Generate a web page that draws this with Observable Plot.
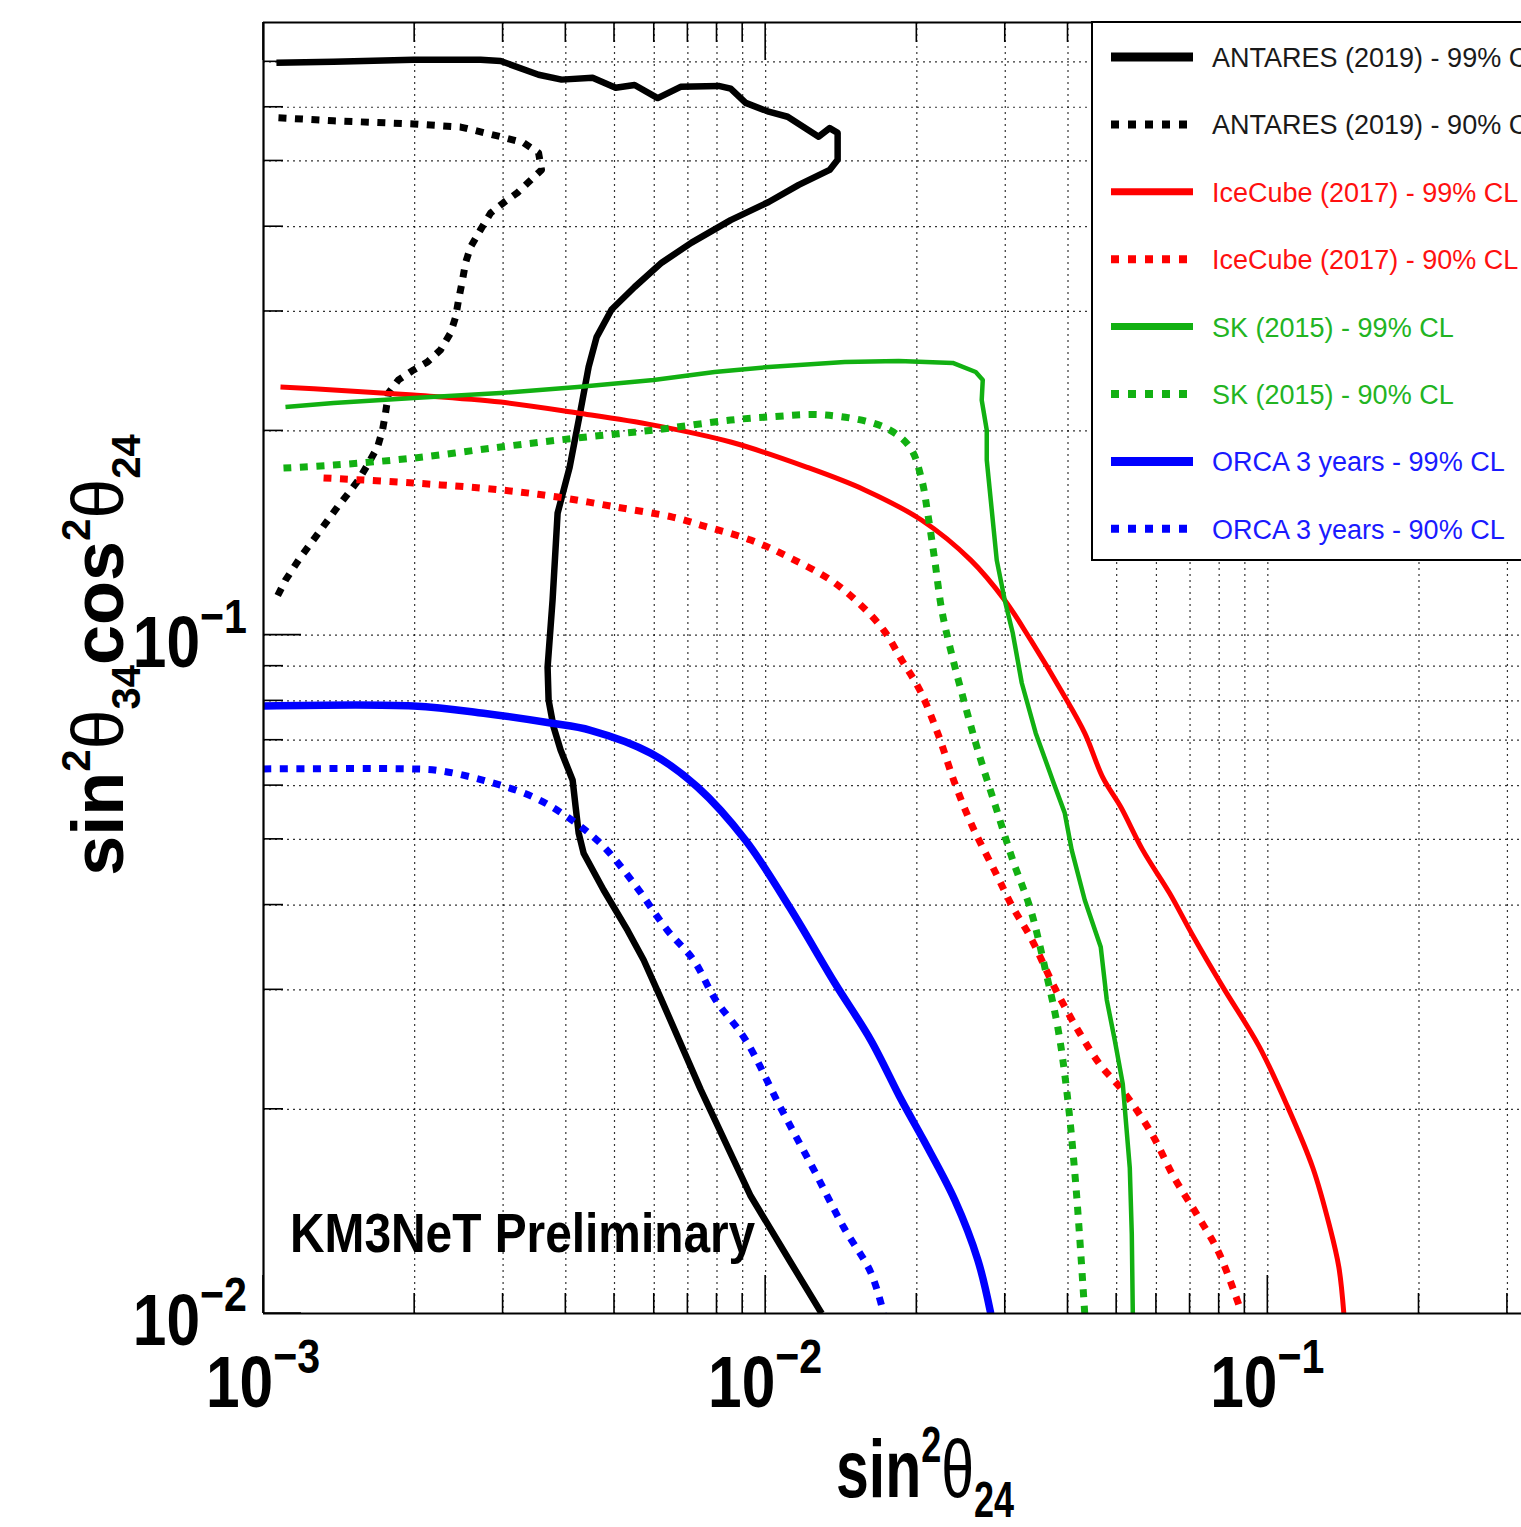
<!DOCTYPE html>
<html>
<head>
<meta charset="utf-8">
<script src="https://cdn.jsdelivr.net/npm/d3@7"></script>
<script src="https://cdn.jsdelivr.net/npm/@observablehq/plot@0.6"></script>
<style>
  html, body { margin: 0; padding: 0; background: #fff; overflow: hidden; }
  svg text { font-family: "Liberation Sans", Arial, Helvetica, sans-serif; }
</style>
</head>
<body>
<div id="chart"></div>
<script>
// ---------------- data (sin^2θ24 , sin^2θ34 cos^2θ24) ----------------
const antares99X = [1.061e-3, 1.379e-3, 1.990e-3, 2.706e-3, 2.966e-3, 3.530e-3, 3.923e-3, 4.522e-3, 5.026e-3, 5.483e-3, 6.095e-3, 6.770e-3, 8.060e-3, 8.517e-3, 9.125e-3, 1.014e-2, 1.106e-2, 1.275e-2, 1.341e-2, 1.391e-2, 1.391e-2, 1.341e-2, 1.164e-2, 1.014e-2, 8.517e-3, 7.120e-3, 6.207e-3, 5.483e-3, 4.934e-3, 4.606e-3, 4.441e-3, 4.281e-3, 4.071e-3, 3.852e-3, 3.764e-3, 3.679e-3, 3.696e-3, 3.782e-3, 3.905e-3, 4.127e-3, 4.184e-3, 4.242e-3, 4.340e-3, 4.756e-3, 5.310e-3, 5.715e-3, 6.178e-3, 7.420e-3, 9.336e-3, 1.121e-2, 1.293e-2];
const antares99Y = [0.698, 0.700, 0.705, 0.705, 0.702, 0.670, 0.659, 0.663, 0.641, 0.647, 0.619, 0.643, 0.645, 0.639, 0.609, 0.591, 0.581, 0.543, 0.559, 0.550, 0.502, 0.485, 0.461, 0.435, 0.409, 0.379, 0.354, 0.326, 0.302, 0.275, 0.2485, 0.2147, 0.1769, 0.1513, 0.1126, 0.0897, 0.0802, 0.0732, 0.0677, 0.0611, 0.0558, 0.0511, 0.0477, 0.0421, 0.0367, 0.0332, 0.0292, 0.0214, 0.0149, 0.0119, 0.0100];

const antares90X = [1.071e-3, 1.379e-3, 1.990e-3, 2.469e-3, 2.966e-3, 3.296e-3, 3.530e-3, 3.578e-3, 3.357e-3, 3.206e-3, 3.007e-3, 2.833e-3, 2.706e-3, 2.585e-3, 2.526e-3, 2.491e-3, 2.446e-3, 2.413e-3, 2.358e-3, 2.252e-3, 2.122e-3, 1.990e-3, 1.857e-3, 1.774e-3, 1.750e-3, 1.726e-3, 1.687e-3, 1.619e-3, 1.546e-3, 1.477e-3, 1.404e-3, 1.299e-3, 1.185e-3, 1.106e-3, 1.061e-3];
const antares90Y = [0.579, 0.573, 0.567, 0.561, 0.543, 0.532, 0.514, 0.485, 0.464, 0.449, 0.434, 0.419, 0.396, 0.3736, 0.354, 0.334, 0.312, 0.2944, 0.2789, 0.2633, 0.2528, 0.2460, 0.2378, 0.2275, 0.2126, 0.2006, 0.1894, 0.1793, 0.1693, 0.1620, 0.1545, 0.1428, 0.1303, 0.1205, 0.1134];

const icecube99X = [1.081e-3, 1.379e-3, 1.990e-3, 2.966e-3, 4.223e-3, 5.983e-3, 8.517e-3, 1.206e-2, 1.575e-2, 2.046e-2, 2.561e-2, 2.993e-2, 3.373e-2, 3.904e-2, 4.319e-2, 4.691e-2, 5.095e-2, 5.636e-2, 6.379e-2, 7.056e-2, 8.134e-2, 9.596e-2, 1.091e-1, 1.229e-1, 1.329e-1, 1.385e-1, 1.417e-1];
const icecube99Y = [0.2322, 0.2298, 0.2259, 0.2206, 0.2126, 0.2040, 0.1926, 0.1769, 0.1637, 0.1477, 0.1290, 0.1126, 0.0983, 0.0821, 0.0717, 0.0617, 0.0558, 0.0482, 0.0416, 0.0363, 0.0303, 0.0248, 0.0203, 0.0164, 0.0134, 0.0117, 0.0100];

const icecube90X = [1.317e-3, 1.990e-3, 2.966e-3, 3.852e-3, 5.026e-3, 6.525e-3, 7.420e-3, 9.336e-3, 1.121e-2, 1.348e-2, 1.532e-2, 1.718e-2, 1.866e-2, 2.027e-2, 2.201e-2, 2.380e-2, 2.585e-2, 2.872e-2, 3.105e-2, 3.373e-2, 3.782e-2, 4.221e-2, 4.648e-2, 5.142e-2, 5.874e-2, 6.497e-2, 7.221e-2, 7.985e-2, 8.835e-2];
const icecube90Y = [0.1705, 0.1676, 0.1637, 0.1598, 0.1545, 0.1493, 0.1453, 0.1381, 0.1299, 0.1205, 0.1115, 0.1017, 0.0919, 0.0830, 0.0717, 0.0605, 0.0521, 0.0446, 0.0397, 0.0358, 0.0300, 0.0259, 0.0232, 0.0213, 0.0184, 0.0159, 0.0140, 0.0123, 0.0101];

const sk99X = [1.106e-3, 1.379e-3, 1.990e-3, 2.966e-3, 4.223e-3, 5.983e-3, 7.914e-3, 1.014e-2, 1.437e-2, 1.841e-2, 2.358e-2, 2.620e-2, 2.706e-2, 2.693e-2, 2.756e-2, 2.756e-2, 2.807e-2, 2.885e-2, 2.993e-2, 3.105e-2, 3.236e-2, 3.450e-2, 3.747e-2, 3.940e-2, 4.069e-2, 4.319e-2, 4.648e-2, 4.778e-2, 4.956e-2, 5.142e-2, 5.310e-2, 5.359e-2, 5.384e-2];
const sk99Y = [0.2169, 0.2199, 0.2237, 0.2275, 0.2322, 0.2378, 0.2443, 0.2485, 0.2528, 0.2536, 0.2519, 0.2443, 0.2378, 0.2221, 0.2006, 0.1812, 0.1582, 0.1290, 0.1126, 0.1007, 0.0850, 0.0717, 0.0605, 0.0547, 0.0482, 0.0407, 0.0347, 0.0290, 0.0253, 0.0218, 0.0164, 0.0131, 0.0100];

const sk90X = [1.096e-3, 1.379e-3, 1.990e-3, 2.966e-3, 4.223e-3, 5.983e-3, 8.517e-3, 1.014e-2, 1.317e-2, 1.718e-2, 1.936e-2, 2.046e-2, 2.102e-2, 2.171e-2, 2.242e-2, 2.336e-2, 2.480e-2, 2.645e-2, 2.872e-2, 3.105e-2, 3.373e-2, 3.596e-2, 3.817e-2, 3.977e-2, 4.145e-2, 4.319e-2];
const sk90Y = [0.1763, 0.1781, 0.1824, 0.1894, 0.1953, 0.2006, 0.2075, 0.2097, 0.2111, 0.2027, 0.1894, 0.1693, 0.1513, 0.1290, 0.1089, 0.0950, 0.0802, 0.0677, 0.0558, 0.0466, 0.0393, 0.0324, 0.0264, 0.0213, 0.0155, 0.0100];

const orca99X = [1.000e-3, 1.990e-3, 2.743e-3, 3.730e-3, 4.481e-3, 5.901e-3, 7.318e-3, 9.125e-3, 1.116e-2, 1.373e-2, 1.619e-2, 1.866e-2, 2.064e-2, 2.380e-2, 2.645e-2, 2.807e-2];
const orca99Y = [0.0786, 0.0786, 0.0767, 0.0742, 0.0724, 0.0670, 0.0597, 0.0498, 0.0397, 0.0307, 0.0253, 0.0206, 0.0180, 0.0147, 0.0120, 0.0100];

const orca90X = [1.000e-3, 1.990e-3, 2.221e-3, 2.743e-3, 3.450e-3, 4.034e-3, 4.691e-3, 5.459e-3, 6.377e-3, 7.186e-3, 7.949e-3, 9.125e-3, 1.071e-2, 1.241e-2, 1.430e-2, 1.619e-2, 1.718e-2];
const orca90Y = [0.0635, 0.0635, 0.0632, 0.0611, 0.0577, 0.0539, 0.0493, 0.0431, 0.0367, 0.0332, 0.0290, 0.0253, 0.0201, 0.0164, 0.0134, 0.0115, 0.0100];

const seriesNames = [
  "ANTARES (2019) - 99% CL", "ANTARES (2019) - 90% CL",
  "IceCube (2017) - 99% CL", "IceCube (2017) - 90% CL",
  "SK (2015) - 99% CL", "SK (2015) - 90% CL",
  "ORCA 3 years - 99% CL", "ORCA 3 years - 90% CL"
];
const seriesX = [antares99X, antares90X, icecube99X, icecube90X, sk99X, sk90X, orca99X, orca90X];
const seriesY = [antares99Y, antares90Y, icecube99Y, icecube90Y, sk99Y, sk90Y, orca99Y, orca90Y];

// axis ticks
const xMajorTicks = [1e-3, 1e-2, 1e-1];
const xMajorLabels = ["−3", "−2", "−1"];
const xMinorTicks = [0.002, 0.003, 0.004, 0.005, 0.006, 0.007, 0.008, 0.009, 0.02, 0.03, 0.04, 0.05, 0.06, 0.07, 0.08, 0.09, 0.2, 0.3];
const yMajorTicks = [0.01, 0.1];
const yMajorLabels = ["−2", "−1"];
const yMinorTicks = [0.02, 0.03, 0.04, 0.05, 0.06, 0.07, 0.08, 0.09, 0.2, 0.3, 0.4, 0.5, 0.6, 0.7];
const xDomain = [1e-3, 0.32];
const yDomain = [0.01, 0.8];

// ---------------- styles ----------------
const styles = [
  {color: "#000000", width: 6.5, dash: null, legendWidth: 9, text: "#1a1a1a", curve: "linear"},
  {color: "#000000", width: 7, dash: "8,8.5", legendWidth: 8, text: "#1a1a1a", curve: "linear"},
  {color: "#ff0000", width: 5, dash: null, legendWidth: 7, text: "#ff1010", curve: "catmull-rom"},
  {color: "#ff0000", width: 7, dash: "8,8.5", legendWidth: 8, text: "#ff1010", curve: "catmull-rom"},
  {color: "#12b012", width: 4.5, dash: null, legendWidth: 7, text: "#22b422", curve: "linear"},
  {color: "#12b012", width: 7, dash: "8,8.5", legendWidth: 8, text: "#22b422", curve: "catmull-rom"},
  {color: "#0000ff", width: 7.5, dash: null, legendWidth: 9, text: "#1a1aff", curve: "catmull-rom"},
  {color: "#0000ff", width: 7, dash: "8,8.5", legendWidth: 8, text: "#1a1aff", curve: "catmull-rom"}
];

const lineMarks = seriesNames.map((name, k) => {
  const rows = seriesX[k].map((x, i) => ({x, y: seriesY[k][i]}));
  const s = styles[k];
  return Plot.line(rows, {
    x: "x", y: "y", stroke: s.color, strokeWidth: s.width,
    strokeDasharray: s.dash, strokeLinecap: "butt", strokeLinejoin: "round",
    curve: s.curve, clip: true
  });
});

const gridStyle = {stroke: "#000", strokeOpacity: 0.8, strokeWidth: 1.2, strokeDasharray: "2,4"};

const chart = Plot.plot({
  width: 1521, height: 1527,
  marginLeft: 263, marginRight: 0, marginTop: 22, marginBottom: 214,
  style: {background: "#fff", overflow: "hidden"},
  x: {type: "log", domain: xDomain, axis: null},
  y: {type: "log", domain: yDomain, axis: null},
  marks: [
    Plot.ruleX(xMinorTicks.concat(xMajorTicks.slice(1)), gridStyle),
    Plot.ruleY(yMinorTicks.concat(yMajorTicks.slice(1)), gridStyle),
    ...lineMarks,
    Plot.ruleX([xDomain[0]], {stroke: "#000", strokeWidth: 2.2}),
    Plot.ruleY([yDomain[0], yDomain[1]], {stroke: "#000", strokeWidth: 2.2})
  ]
});
document.getElementById("chart").appendChild(chart);

// ---------------- decorations from Plot's scales ----------------
const svg = d3.select(chart);
const sx = chart.scale("x"), sy = chart.scale("y");
const X = v => sx.apply(v), Y = v => sy.apply(v);
const x0 = X(xDomain[0]), yb = Y(yDomain[0]), yt = Y(yDomain[1]);

// inward ticks
const tg = svg.append("g").attr("stroke", "#000").attr("stroke-width", 1.6);
function tickX(v, len) {
  tg.append("line").attr("x1", X(v)).attr("x2", X(v)).attr("y1", yb).attr("y2", yb - len);
  tg.append("line").attr("x1", X(v)).attr("x2", X(v)).attr("y1", yt).attr("y2", yt + len);
}
function tickY(v, len) {
  tg.append("line").attr("x1", x0).attr("x2", x0 + len).attr("y1", Y(v)).attr("y2", Y(v));
}
xMajorTicks.forEach(v => tickX(v, 38));
xMinorTicks.forEach(v => tickX(v, 20));
yMajorTicks.forEach(v => tickY(v, 38));
yMinorTicks.forEach(v => tickY(v, 20));

// power-of-ten tick labels
function powLabel(x, y, exp, anchor) {
  const t = svg.append("text")
    .attr("transform", `translate(${x},${y}) scale(0.84,1)`)
    .attr("text-anchor", anchor).attr("font-weight", "bold")
    .attr("font-size", 72).attr("fill", "#000");
  t.append("tspan").text("10");
  t.append("tspan").attr("font-size", 49).attr("dy", -34).text(exp);
}
xMajorTicks.forEach((v, i) => powLabel(X(v), yb + 94, xMajorLabels[i], "middle"));
yMajorTicks.forEach((v, i) => powLabel(x0 - 16, Y(v) + 32, yMajorLabels[i], "end"));

// x axis title
{
  const t = svg.append("text")
    .attr("transform", `translate(925,1497) scale(0.72,1)`)
    .attr("text-anchor", "middle").attr("font-size", 82).attr("fill", "#000");
  t.append("tspan").attr("font-weight", "bold").text("sin");
  t.append("tspan").attr("font-weight", "bold").attr("font-size", 50).attr("dy", -35).text("2");
  t.append("tspan").attr("font-weight", "normal").attr("dy", 35).text("θ");
  t.append("tspan").attr("font-weight", "bold").attr("font-size", 50).attr("dy", 20).text("24");
}
// y axis title
{
  const t = svg.append("text")
    .attr("transform", `translate(123,655) rotate(-90)`)
    .attr("text-anchor", "middle").attr("font-size", 72).attr("fill", "#000");
  t.append("tspan").attr("font-weight", "bold").text("sin");
  t.append("tspan").attr("font-weight", "bold").attr("font-size", 40).attr("dy", -33).text("2");
  t.append("tspan").attr("font-weight", "normal").attr("dy", 33).text("θ");
  t.append("tspan").attr("font-weight", "bold").attr("font-size", 40).attr("dy", 17).text("34");
  t.append("tspan").attr("font-weight", "bold").attr("dy", -17).text("cos");
  t.append("tspan").attr("font-weight", "bold").attr("font-size", 40).attr("dy", -33).text("2");
  t.append("tspan").attr("font-weight", "normal").attr("dy", 33).text("θ");
  t.append("tspan").attr("font-weight", "bold").attr("font-size", 40).attr("dy", 17).text("24");
}
// KM3NeT Preliminary
svg.append("text")
  .attr("transform", `translate(290,1252) scale(0.87,1)`)
  .attr("text-anchor", "start")
  .attr("font-size", 55).attr("font-weight", "bold").attr("fill", "#000")
  .text("KM3NeT Preliminary");

// legend
const lg = svg.append("g");
lg.append("rect").attr("x", 1092).attr("y", yt).attr("width", 600).attr("height", 560 - yt)
  .attr("fill", "#fff").attr("stroke", "#000").attr("stroke-width", 2);
seriesNames.forEach((name, i) => {
  const s = styles[i];
  const yy = 57 + i * 67.4;
  lg.append("line").attr("x1", 1111).attr("x2", 1193).attr("y1", yy).attr("y2", yy)
    .attr("stroke", s.color).attr("stroke-width", s.legendWidth)
    .attr("stroke-dasharray", s.dash ? "8,9" : null);
  lg.append("text")
    .attr("transform", `translate(1212,${yy + 10}) scale(0.965,1)`)
    .attr("text-anchor", "start")
    .attr("font-size", 28).attr("fill", s.text).text(name);
});
</script>
</body>
</html>
